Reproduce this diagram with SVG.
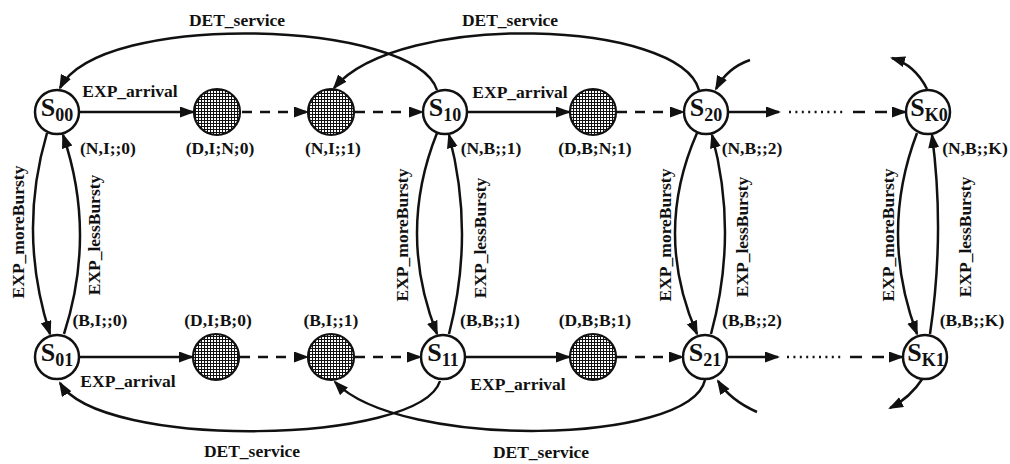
<svg xmlns="http://www.w3.org/2000/svg" width="1010" height="464" viewBox="0 0 1010 464">
<defs>
<pattern id="hatch" width="3" height="3" patternUnits="userSpaceOnUse">
<rect width="3" height="3" fill="#ffffff"/>
<path d="M0 0.5H3M0.5 0V3" stroke="#111" stroke-width="1.05"/>
</pattern>
<marker id="ah" markerUnits="userSpaceOnUse" markerWidth="16" markerHeight="12" refX="13" refY="5.5" orient="auto">
<path d="M0 0L15 5.5L0 11z" fill="#111"/>
</marker>
<style>
.st{fill:#fff;stroke:#111;stroke-width:2.5}
.hn{fill:url(#hatch);stroke:#111;stroke-width:2.2}
.nl{font-family:"Liberation Serif","Times New Roman",serif;font-weight:bold;fill:#111;text-anchor:middle}
.big{font-size:26px}
.sub{font-size:18px}
.lb{font-family:"Liberation Serif","Times New Roman",serif;font-weight:bold;font-size:17.5px;fill:#111;text-anchor:middle}
.c{fill:none;stroke:#111;stroke-width:2.5}
.a{marker-end:url(#ah)}
.d{stroke-dasharray:10 8}
.dt{stroke-dasharray:2 4.4}
.d2{stroke-dasharray:12 10}
</style>
</defs>

<g id="connectors">
<path class="c a" d="M80 112L193 112"/>
<path class="c a d" d="M242 112L307 112"/>
<path class="c a d" d="M355 112L422 112"/>
<path class="c a" d="M468 112L569 112"/>
<path class="c a d" d="M617 112L683 112"/>
<path class="c a" d="M729 112L779 112"/>
<path class="c dt" d="M789 112L843 112"/>
<path class="c a d2" d="M853 112L905 112"/>
<path class="c a" d="M80 357L192 357"/>
<path class="c a d" d="M240 357L307 357"/>
<path class="c a d" d="M355 357L420 357"/>
<path class="c a" d="M466 357L569 357"/>
<path class="c a d" d="M617 357L682 357"/>
<path class="c a" d="M728 357L778 357"/>
<path class="c dt" d="M787 357L841 357"/>
<path class="c a d2" d="M850 357L902 357"/>
<path class="c a" d="M47 133Q17.5 233 50 334"/>
<path class="c a" d="M64 334Q96.5 233 63 135"/>
<path class="c a" d="M437 133Q397 233 437 334"/>
<path class="c a" d="M449 334Q475 233 449 135"/>
<path class="c a" d="M697 133Q653 233 697 334"/>
<path class="c a" d="M711 334Q738.5 233 712 135"/>
<path class="c a" d="M917 133Q879 233 917 334"/>
<path class="c a" d="M930 334Q945 233 932 135"/>
<path class="c a" d="M437 90C415 20 100 10 60 88"/>
<path class="c a" d="M699 90C680 20 400 10 334 88"/>
<path class="c a" d="M440 381C420 445 100 450 60 383"/>
<path class="c a" d="M705 380C690 445 400 450 335 382"/>
<path class="c a" d="M750 60Q727 68 716 89"/>
<path class="c a" d="M927 89Q915 65 892 58"/>
<path class="c a" d="M757 412Q730 400 718 381"/>
<path class="c a" d="M923 378Q910 398 890 408"/>
</g>

<g id="S00"><circle class="st" cx="57" cy="112" r="22"/><text class="nl" x="57" y="116"><tspan class="big">S</tspan><tspan class="sub" dy="5">00</tspan></text></g>
<g id="H_DIN0"><circle class="hn" cx="217" cy="112" r="23"/></g>
<g id="H_NI1"><circle class="hn" cx="331" cy="112" r="23"/></g>
<g id="S10"><circle class="st" cx="445" cy="112" r="22"/><text class="nl" x="445" y="116"><tspan class="big">S</tspan><tspan class="sub" dy="5">10</tspan></text></g>
<g id="H_DBN1"><circle class="hn" cx="593" cy="112" r="23"/></g>
<g id="S20"><circle class="st" cx="706" cy="112" r="22"/><text class="nl" x="706" y="116"><tspan class="big">S</tspan><tspan class="sub" dy="5">20</tspan></text></g>
<g id="SK0"><circle class="st" cx="928" cy="112" r="22"/><text class="nl" x="929" y="116"><tspan class="big">S</tspan><tspan class="sub" dy="5">K0</tspan></text></g>

<g id="S01"><circle class="st" cx="57" cy="357" r="22"/><text class="nl" x="57" y="361"><tspan class="big">S</tspan><tspan class="sub" dy="5">01</tspan></text></g>
<g id="H_DIB0"><circle class="hn" cx="216" cy="357" r="23"/></g>
<g id="H_BI1"><circle class="hn" cx="331" cy="357" r="23"/></g>
<g id="S11"><circle class="st" cx="443" cy="357" r="22"/><text class="nl" x="443" y="361"><tspan class="big">S</tspan><tspan class="sub" dy="5">11</tspan></text></g>
<g id="H_DBB1"><circle class="hn" cx="593" cy="357" r="23"/></g>
<g id="S21"><circle class="st" cx="705" cy="357" r="22"/><text class="nl" x="705" y="361"><tspan class="big">S</tspan><tspan class="sub" dy="5">21</tspan></text></g>
<g id="SK1"><circle class="st" cx="925" cy="357" r="22"/><text class="nl" x="926" y="361"><tspan class="big">S</tspan><tspan class="sub" dy="5">K1</tspan></text></g>

<g id="labels">
<text class="lb" x="237" y="26">DET_service</text>
<text class="lb" x="510" y="26">DET_service</text>
<text class="lb" x="130" y="97">EXP_arrival</text>
<text class="lb" x="520" y="98">EXP_arrival</text>
<text class="lb" x="108" y="154">(N,I;;0)</text>
<text class="lb" x="220" y="154">(D,I;N;0)</text>
<text class="lb" x="333" y="154">(N,I;;1)</text>
<text class="lb" x="491" y="154">(N,B;;1)</text>
<text class="lb" x="595" y="154">(D,B;N;1)</text>
<text class="lb" x="752" y="154">(N,B;;2)</text>
<text class="lb" x="975" y="154">(N,B;;K)</text>
<text class="lb" x="100" y="326">(B,I;;0)</text>
<text class="lb" x="218" y="326">(D,I;B;0)</text>
<text class="lb" x="331" y="326">(B,I;;1)</text>
<text class="lb" x="490" y="326">(B,B;;1)</text>
<text class="lb" x="595" y="326">(D,B;B;1)</text>
<text class="lb" x="752" y="326">(B,B;;2)</text>
<text class="lb" x="972" y="326">(B,B;;K)</text>
<text class="lb" x="128" y="387">EXP_arrival</text>
<text class="lb" x="518" y="390">EXP_arrival</text>
<text class="lb" x="252" y="457">DET_service</text>
<text class="lb" x="541" y="458">DET_service</text>
<text class="lb" x="18" y="232" dy="0.35em" transform="rotate(-90 18 232)">EXP_moreBursty</text>
<text class="lb" x="94" y="235" dy="0.35em" transform="rotate(-90 94 235)">EXP_lessBursty</text>
<text class="lb" x="402" y="235" dy="0.35em" transform="rotate(-90 402 235)">EXP_moreBursty</text>
<text class="lb" x="480" y="238" dy="0.35em" transform="rotate(-90 480 238)">EXP_lessBursty</text>
<text class="lb" x="665" y="235" dy="0.35em" transform="rotate(-90 665 235)">EXP_moreBursty</text>
<text class="lb" x="742" y="237" dy="0.35em" transform="rotate(-90 742 237)">EXP_lessBursty</text>
<text class="lb" x="888" y="235" dy="0.35em" transform="rotate(-90 888 235)">EXP_moreBursty</text>
<text class="lb" x="965" y="237" dy="0.35em" transform="rotate(-90 965 237)">EXP_lessBursty</text>
</g>
</svg>
